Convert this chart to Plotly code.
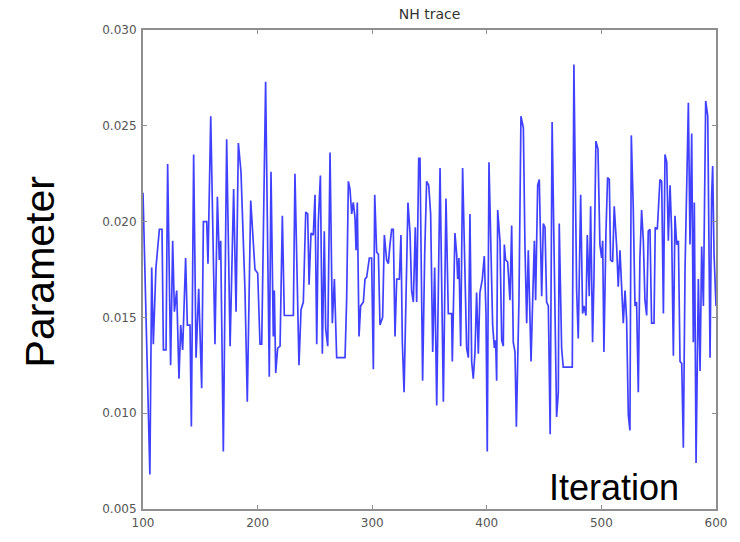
import plotly.graph_objects as go

iterations = [
    100, 102, 106, 107.6, 109, 111.3, 114.3, 116.6, 117.8, 120.1, 121.5, 124.1, 125.9, 127.4, 129.4,
    131.4, 132.9, 134.6, 137.2, 138.7, 141.0, 142.2, 144.2, 146.3, 148.6, 151.2, 152.7, 155.6, 156.7,
    159.1, 162.8, 164.9, 166.6, 167.8, 170.1, 173.0, 176.0, 179.1, 181.2, 183.2, 185.5, 189.0, 191.0,
    194.0, 195.4, 197.7, 200.1, 202.1, 203.6, 205.0, 207.0, 210.2, 211.7, 213.7, 214.6, 215.8, 217.5,
    219.6, 221.6, 223.3, 231.2, 232.6, 234.1, 236.1, 237.9, 239.9, 242.0, 243.7, 244.9, 246.6, 248.6,
    250.1, 251.6, 253.0, 254.8, 256.5, 258.2, 259.4, 261.2, 263.2, 265.2, 267.0, 269.0, 276.3, 277.7,
    279.2, 280.6, 282.1, 283.5, 285.0, 285.9, 287.0, 288.5, 289.9, 292.3, 293.7, 295.2, 297.5, 299.5,
    301.0, 302.2, 303.9, 305.4, 306.8, 309.1, 310.6, 312.6, 314.1, 315.5, 317.0, 318.4, 319.9, 321.4,
    323.7, 325.1, 326.3, 327.8, 329.5, 331.2, 333.0, 334.4, 335.9, 337.6, 338.8, 340.6, 341.7, 342.6,
    344.0, 345.8, 347.5, 349.3, 351.0, 352.8, 354.5, 356.3, 358.0, 359.2, 362.1, 364.4, 366.4, 369.3,
    369.9, 372.2, 373.7, 374.6, 375.7, 377.2, 378.9, 381.0, 382.4, 383.9, 385.3, 386.8, 388.2, 389.7,
    391.1, 392.6, 394.0, 396.1, 397.8, 399.3, 400.4, 401.9, 403.6, 405.1, 406.6, 407.7, 408.6, 409.5,
    411.5, 413.0, 414.4, 415.3, 416.4, 418.2, 420.2, 421.7, 423.1, 424.6, 425.8, 426.9, 428.1, 429.8,
    431.9, 433.3, 434.8, 436.2, 437.7, 438.6, 439.7, 441.5, 442.6, 444.4, 445.8, 447.9, 449.3, 450.8,
    452.2, 453.7, 455.3, 457.0, 460.9, 462.4, 463.2, 465.3, 466.7, 474.6, 476.0, 478.4, 479.8, 481.9,
    483.6, 484.8, 486.5, 487.7, 489.4, 490.6, 492.3, 493.5, 495.2, 497.0, 498.7, 500.2, 501.1, 502.2,
    504.0, 505.4, 506.9, 508.0, 509.8, 511.2, 513.3, 514.7, 516.2, 517.6, 519.1, 520.6, 522.0, 523.5,
    524.9, 526.1, 527.8, 529.3, 530.7, 532.2, 533.6, 535.1, 536.6, 538.0, 539.5, 540.9, 542.4, 543.8,
    545.9, 547.0, 548.8, 551.1, 552.6, 554.1, 555.5, 557.0, 558.4, 559.9, 561.3, 562.8, 564.2, 565.7,
    567.2, 568.6, 570.1, 571.5, 573.0, 574.4, 575.9, 577.3, 578.8, 580.2, 581.1, 582.6, 583.7, 584.6,
    586.1, 587.5, 589.0, 591.0, 592.8, 593.9, 594.8, 596.2, 597.1, 598.3, 600.0,
]

nh_values = [
    0.0215, 0.0168, 0.0068, 0.0176, 0.0136, 0.0176, 0.0196, 0.0196, 0.0133, 0.0133, 0.0230, 0.0125, 0.0190, 0.0153, 0.0164,
    0.0118, 0.0146, 0.0133, 0.0181, 0.0146, 0.0146, 0.0093, 0.0235, 0.0129, 0.0165, 0.0113, 0.0200, 0.0200, 0.0178,
    0.0255, 0.0136, 0.0213, 0.0180, 0.0190, 0.0080, 0.0243, 0.0135, 0.0217, 0.0153, 0.0241, 0.0226, 0.0164, 0.0106,
    0.0211, 0.0196, 0.0175, 0.0173, 0.0136, 0.0136, 0.0187, 0.0273, 0.0119, 0.0226, 0.0140, 0.0164, 0.0121, 0.0134,
    0.0135, 0.0203, 0.0151, 0.0151, 0.0225, 0.0175, 0.0125, 0.0154, 0.0158, 0.0205, 0.0204, 0.0167, 0.0194, 0.0193,
    0.0214, 0.0136, 0.0200, 0.0224, 0.0131, 0.0195, 0.0144, 0.0135, 0.0236, 0.0147, 0.0170, 0.0129, 0.0129, 0.0159,
    0.0221, 0.0217, 0.0204, 0.0210, 0.0202, 0.0185, 0.0210, 0.0140, 0.0156, 0.0158, 0.0170, 0.0171, 0.0181, 0.0181,
    0.0123, 0.0214, 0.0184, 0.0183, 0.0146, 0.0150, 0.0193, 0.0180, 0.0178, 0.0188, 0.0196, 0.0196, 0.0140, 0.0170,
    0.0170, 0.0193, 0.0137, 0.0111, 0.0170, 0.0210, 0.0194, 0.0164, 0.0158, 0.0197, 0.0158, 0.0233, 0.0233, 0.0173,
    0.0117, 0.0183, 0.0221, 0.0219, 0.0204, 0.0132, 0.0176, 0.0104, 0.0170, 0.0228, 0.0106, 0.0212, 0.0152, 0.0152,
    0.0127, 0.0194, 0.0183, 0.0170, 0.0181, 0.0135, 0.0228, 0.0170, 0.0134, 0.0129, 0.0204, 0.0127, 0.0118, 0.0132,
    0.0163, 0.0131, 0.0163, 0.0170, 0.0182, 0.0152, 0.0080, 0.0231, 0.0187, 0.0146, 0.0134, 0.0138, 0.0117, 0.0206,
    0.0190, 0.0138, 0.0135, 0.0188, 0.0180, 0.0179, 0.0159, 0.0198, 0.0137, 0.0132, 0.0093, 0.0131, 0.0160, 0.0255,
    0.0249, 0.0187, 0.0147, 0.0185, 0.0156, 0.0127, 0.0152, 0.0190, 0.0159, 0.0219, 0.0222, 0.0161, 0.0199, 0.0197,
    0.0158, 0.0156, 0.0089, 0.0252, 0.0098, 0.0111, 0.0199, 0.0134, 0.0124, 0.0124, 0.0282, 0.0164, 0.0139, 0.0214,
    0.0152, 0.0156, 0.0151, 0.0193, 0.0161, 0.0208, 0.0137, 0.0170, 0.0242, 0.0238, 0.0188, 0.0181, 0.0190, 0.0132,
    0.0195, 0.0223, 0.0222, 0.0180, 0.0179, 0.0208, 0.0187, 0.0166, 0.0185, 0.0166, 0.0147, 0.0164, 0.0149, 0.0099,
    0.0091, 0.0245, 0.0207, 0.0156, 0.0158, 0.0111, 0.0181, 0.0206, 0.0190, 0.0159, 0.0151, 0.0195, 0.0196, 0.0147,
    0.0147, 0.0197, 0.0196, 0.0222, 0.0221, 0.0152, 0.0235, 0.0231, 0.0190, 0.0219, 0.0195, 0.0130, 0.0203, 0.0188,
    0.0190, 0.0127, 0.0126, 0.0082, 0.0176, 0.0217, 0.0262, 0.0188, 0.0246, 0.0137, 0.0210, 0.0074, 0.0139, 0.0170,
    0.0122, 0.0187, 0.0156, 0.0263, 0.0255, 0.0187, 0.0129, 0.0214, 0.0229, 0.0183, 0.0156,
]

x_ticks = [100, 200, 300, 400, 500, 600]
y_ticks = [0.005, 0.010, 0.015, 0.020, 0.025, 0.030]
y_tick_labels = ["0.005", "0.010", "0.015", "0.020", "0.025", "0.030"]

fig = go.Figure()
fig.add_trace(go.Scatter(
    x=iterations, y=nh_values, mode="lines",
    line=dict(color="rgba(0,0,255,0.75)", width=1.7),
    hoverinfo="skip", showlegend=False,
))

axis_common = dict(
    showline=True, linecolor="#8f8f8f", linewidth=2, mirror="ticks",
    ticks="inside", ticklen=4, tickcolor="#8f8f8f", tickwidth=1,
    showgrid=False, zeroline=False,
    tickfont=dict(family="DejaVu Sans", size=12, color="#555555"),
)

fig.update_layout(
    width=740, height=542,
    margin=dict(l=143, r=24, t=30, b=24),
    paper_bgcolor="white", plot_bgcolor="white",
    title=dict(text="NH trace", x=(143 + 716) / 2 / 740, xanchor="center",
               y=1 - 14 / 542, yanchor="middle",
               font=dict(family="DejaVu Sans", size=14, color="#333333")),
    xaxis=dict(range=[100, 600], tickvals=x_ticks, ticklabelstandoff=2, **axis_common),
    yaxis=dict(range=[0.005, 0.030], tickvals=y_ticks, ticktext=y_tick_labels,
               ticklabelstandoff=2, **axis_common),
    annotations=[
        dict(text="Parameter", textangle=-90, xref="paper", yref="paper",
             x=-(143 - 40) / 573, y=(518 - 277) / 488, xanchor="center", yanchor="middle",
             showarrow=False, font=dict(family="Liberation Sans", size=41, color="black")),
        dict(text="Iteration", xref="paper", yref="paper",
             x=(614 - 143) / 573, y=(518 - 496) / 488, xanchor="center", yanchor="middle",
             showarrow=False, font=dict(family="Liberation Sans", size=36, color="black")),
    ],
)

fig.write_html("out.html")
